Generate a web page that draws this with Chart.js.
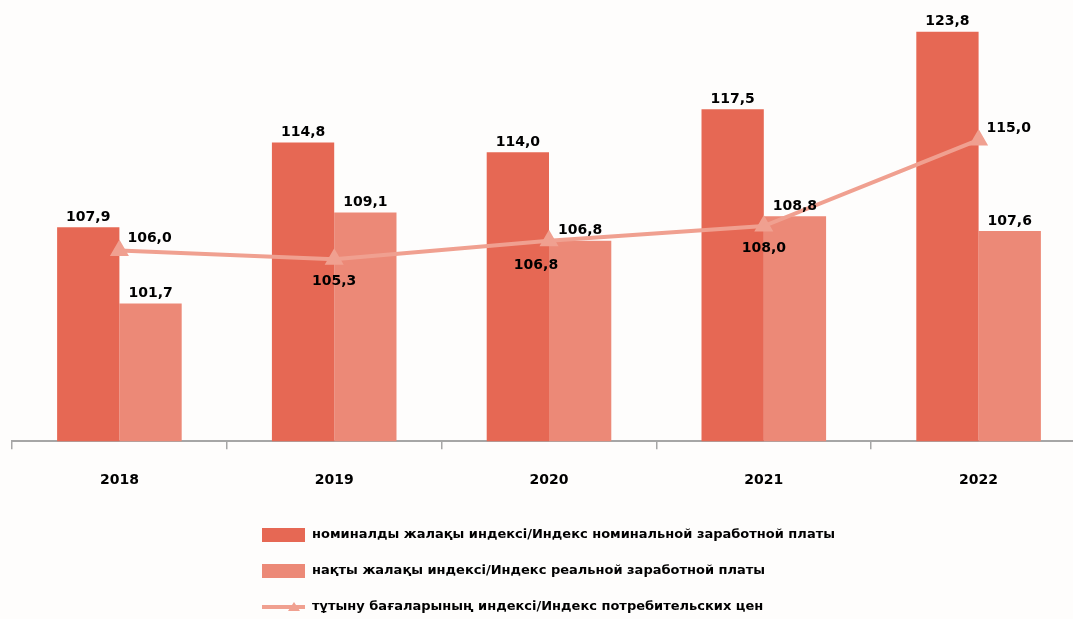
<!DOCTYPE html>
<html>
<head>
<meta charset="utf-8">
<script src="https://cdn.jsdelivr.net/npm/chart.js@4.4.1/dist/chart.umd.min.js"></script>
<style>
  html, body { margin: 0; padding: 0; background: #fefdfc; overflow: hidden; }
  #wrap { width: 1097px; height: 619px; position: relative; }
</style>
</head>
<body>
<div id="wrap"><canvas id="wagechart"></canvas></div>
<script>
const years = ['2018', '2019', '2020', '2021', '2022'];
const nominalWage = [107.9, 114.8, 114.0, 117.5, 123.8];
const realWage = [101.7, 109.1, 106.8, 108.8, 107.6];
const cpi = [106.0, 105.3, 106.8, 108.0, 115.0];

const legendNames = [
  'номиналды жалақы индексі/Индекс номинальной заработной платы',
  'нақты жалақы индексі/Индекс реальной заработной платы',
  'тұтыну бағаларының индексі/Индекс потребительских цен'
];

// where the cpi label sits relative to its point
const cpiLabelPos = ['right', 'below', 'belowleft', 'below', 'right'];

const fontFam = '"DejaVu Sans", "Liberation Sans", Arial, sans-serif';
const labelFont = 'bold 14px ' + fontFam;

function fmt(v) {
  return v.toFixed(1).replace('.', ',');
}

const valueLabels = {
  id: 'valueLabels',
  afterDatasetsDraw(chart) {
    const ctx = chart.ctx;
    ctx.save();
    ctx.font = labelFont;
    ctx.fillStyle = '#000';
    chart.data.datasets.forEach((ds, di) => {
      const meta = chart.getDatasetMeta(di);
      meta.data.forEach((el, i) => {
        const txt = fmt(ds.data[i]);
        if (ds.type === 'line') {
          const pos = cpiLabelPos[i];
          ctx.textBaseline = 'middle';
          if (pos === 'right') {
            ctx.textAlign = 'left';
            ctx.fillText(txt, el.x + 8, el.y - 12);
          } else if (pos === 'belowleft') {
            ctx.textAlign = 'center';
            ctx.fillText(txt, el.x - 13, el.y + 25);
          } else {
            ctx.textAlign = 'center';
            ctx.fillText(txt, el.x, el.y + 22);
          }
        } else {
          ctx.textAlign = 'center';
          ctx.textBaseline = 'bottom';
          ctx.fillText(txt, el.x, el.y - 3);
        }
      });
    });
    ctx.restore();
  }
};

const sideLegend = {
  id: 'sideLegend',
  afterDraw(chart) {
    const ctx = chart.ctx;
    const rows = [535, 571, 607];
    ctx.save();
    ctx.font = 'bold 13px ' + fontFam;
    ctx.textBaseline = 'middle';
    ctx.textAlign = 'left';
    chart.data.datasets.forEach((ds, i) => {
      const y = rows[i];
      if (ds.type === 'line') {
        ctx.strokeStyle = ds.borderColor;
        ctx.lineWidth = 4;
        ctx.beginPath();
        ctx.moveTo(262, y);
        ctx.lineTo(305, y);
        ctx.stroke();
        ctx.fillStyle = ds.borderColor;
        ctx.beginPath();
        ctx.moveTo(294, y - 5);
        ctx.lineTo(300, y + 4);
        ctx.lineTo(288, y + 4);
        ctx.closePath();
        ctx.fill();
      } else {
        ctx.fillStyle = ds.backgroundColor;
        ctx.fillRect(262, y - 7, 43, 14);
      }
      ctx.fillStyle = '#000';
      ctx.fillText(ds.label, 312, y);
    });
    ctx.restore();
  }
};

new Chart(document.querySelector('#wagechart'), {
  data: {
    labels: years,
    datasets: [
      {
        type: 'bar',
        label: legendNames[0],
        data: nominalWage,
        backgroundColor: 'rgb(230, 104, 84)',
        order: 1
      },
      {
        type: 'bar',
        label: legendNames[1],
        data: realWage,
        backgroundColor: 'rgb(236, 137, 119)',
        order: 1
      },
      {
        type: 'line',
        label: legendNames[2],
        data: cpi,
        borderColor: 'rgb(240, 160, 144)',
        backgroundColor: 'rgb(240, 160, 144)',
        borderWidth: 4,
        pointStyle: 'triangle',
        pointRadius: 7,
        pointHoverRadius: 7,
        tension: 0,
        order: 0
      }
    ]
  },
  options: {
    responsive: true,
    maintainAspectRatio: false,
    animation: false,
    layout: {
      padding: { top: 17, left: 12, right: 0, bottom: 107 }
    },
    datasets: {
      bar: {
        categoryPercentage: 0.58,
        barPercentage: 1.0
      }
    },
    scales: {
      x: {
        grid: {
          drawOnChartArea: false,
          tickLength: 8,
          color: '#a6a6a6',
          lineWidth: 1.5
        },
        border: { color: '#a6a6a6', width: 2 },
        ticks: {
          color: '#000',
          padding: 23,
          font: { family: fontFam, size: 14, weight: 'bold' }
        }
      },
      y: {
        display: false,
        min: 90.5,
        max: 125
      }
    },
    plugins: {
      legend: { display: false },
      tooltip: { enabled: false }
    }
  },
  plugins: [valueLabels, sideLegend]
});
</script>
</body>
</html>
